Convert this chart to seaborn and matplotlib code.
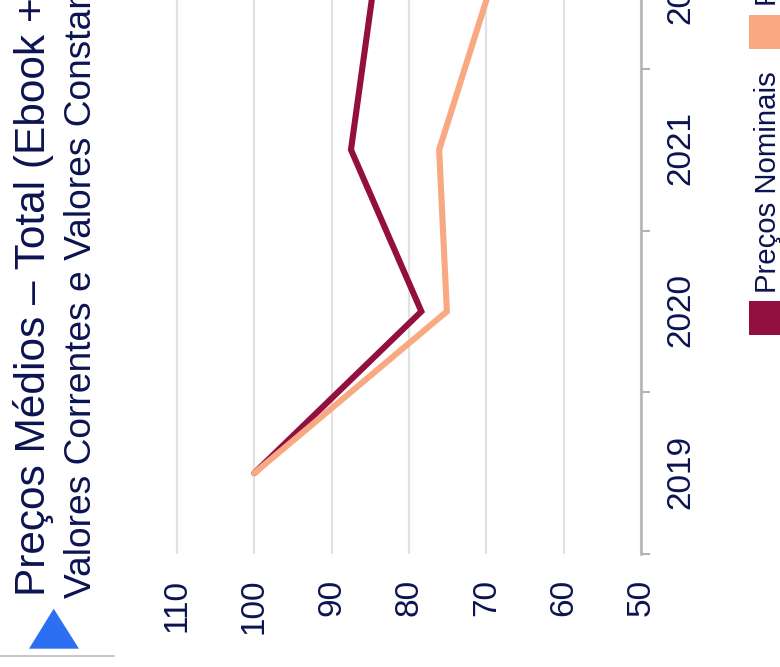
import matplotlib
matplotlib.use("Agg")
import matplotlib.pyplot as plt
from matplotlib.patches import Polygon, Rectangle
from matplotlib.lines import Line2D
from matplotlib.transforms import ScaledTranslation
import pandas as pd
import seaborn as sns

# ── Data ─────────────────────────────────────────────────────────────────────
years = ["2019", "2020", "2021", "2022"]
nominal = [100.0, 78.4, 87.5, 84.6]
real = [100.0, 75.1, 76.1, 69.5]
value_ticks = [50, 60, 70, 80, 90, 100, 110]
nominal_label = "Preços Nominais"
real_label = "Preços Reais"
title = "Preços Médios – Total (Ebook + Impresso)"
subtitle = "Valores Correntes e Valores Constantes"

# ── Style ────────────────────────────────────────────────────────────────────
NAVY = "#0b1450"
DARK = "#930f3f"
PEACH = "#f8a982"
AXIS_GREY = "#b2b2b2"
GRID_GREY = "#e2e2e2"
W, H = 780, 667

sns.set_theme(style="white")
plt.rcParams["font.family"] = ["Liberation Sans", "DejaVu Sans"]

df = pd.DataFrame({
    "pos": list(range(len(years))) * 2,
    "value": nominal + real,
    "serie": [nominal_label] * len(years) + [real_label] * len(years),
})


def fx(px):
    return px / W


def fy(px):
    return 1 - px / H


fig = plt.figure(figsize=(W / 100, H / 100), dpi=100, facecolor="white")

# the whole chart is turned a quarter turn, the top runs off the canvas
step = 161.7
left_px, right_px, bottom_px = 173.1, 641, 554
ax = fig.add_axes([fx(left_px), fy(bottom_px), (right_px - left_px) / W, 4 * step / H])

sns.lineplot(
    data=df, x="value", y="pos", hue="serie", orient="y", estimator=None,
    hue_order=[nominal_label, real_label], palette=[DARK, PEACH],
    linewidth=4.4, legend=False, ax=ax,
    solid_capstyle="round", solid_joinstyle="miter",
)

ax.set_xlim(110.5, 50)
ax.set_ylim(-0.5, 3.5)
ax.set_xlabel("")
ax.set_ylabel("")

ax.set_xticks(value_ticks)
ax.set_xticklabels([str(v) for v in value_ticks], rotation=90, color=NAVY, fontsize=24)
ax.tick_params(axis="x", length=0, pad=17.8)
ax.xaxis.grid(True, color=GRID_GREY, linewidth=1.6)
ax.set_axisbelow(True)

ax.yaxis.tick_right()
ax.set_yticks([-0.5, 0.5, 1.5, 2.5, 3.5])
ax.set_yticklabels([])
ax.tick_params(axis="y", which="major", length=6.5, width=1.5, color=AXIS_GREY, right=True)
ax.set_yticks(range(len(years)), minor=True)
ax.set_yticklabels(years, minor=True, rotation=90, va="center", color=NAVY, fontsize=24)
ax.tick_params(axis="y", which="minor", length=0, pad=17.5, right=True)
nudge = ScaledTranslation(0, 1.5 / 100, fig.dpi_scale_trans)
for lab in ax.get_yticklabels(minor=True):
    lab.set_transform(lab.get_transform() + nudge)

for side in ["left", "top", "bottom"]:
    ax.spines[side].set_visible(False)
ax.spines["right"].set_color(AXIS_GREY)
ax.spines["right"].set_linewidth(1.8)

# ── Title block ──────────────────────────────────────────────────────────────
fig.text(fx(45), fy(596.5), title, rotation=90, rotation_mode="anchor", ha="left",
         va="baseline", color=NAVY, fontsize=30.5)
fig.text(fx(91), fy(598.5), subtitle, rotation=90, rotation_mode="anchor", ha="left",
         va="baseline", color=NAVY, fontsize=26.7)
fig.add_artist(Polygon(
    [[fx(29), fy(648.7)], [fx(79), fy(648.7)], [fx(53.7), fy(608.7)]],
    closed=True, transform=fig.transFigure, facecolor="#2d6ff2", edgecolor="none",
))
fig.add_artist(Line2D([0, fx(114)], [fy(656), fy(656)], transform=fig.transFigure,
                      color="#c8c8c8", linewidth=1.5))

# ── Legend, drawn by hand because it is turned too ───────────────────────────
for label, color, box_top, text_start in [
    (nominal_label, DARK, 301, 293),
    (real_label, PEACH, 15, 6),
]:
    fig.add_artist(Rectangle((fx(749), fy(box_top + 33.5)), 40 / W, 33.5 / H,
                             transform=fig.transFigure, facecolor=color, edgecolor="none"))
    fig.text(fx(776), fy(text_start), label, rotation=90, rotation_mode="anchor",
             ha="left", va="baseline", color=NAVY, fontsize=21.2)

fig.savefig("out.png", dpi=100, facecolor="white")
plt.close(fig)
